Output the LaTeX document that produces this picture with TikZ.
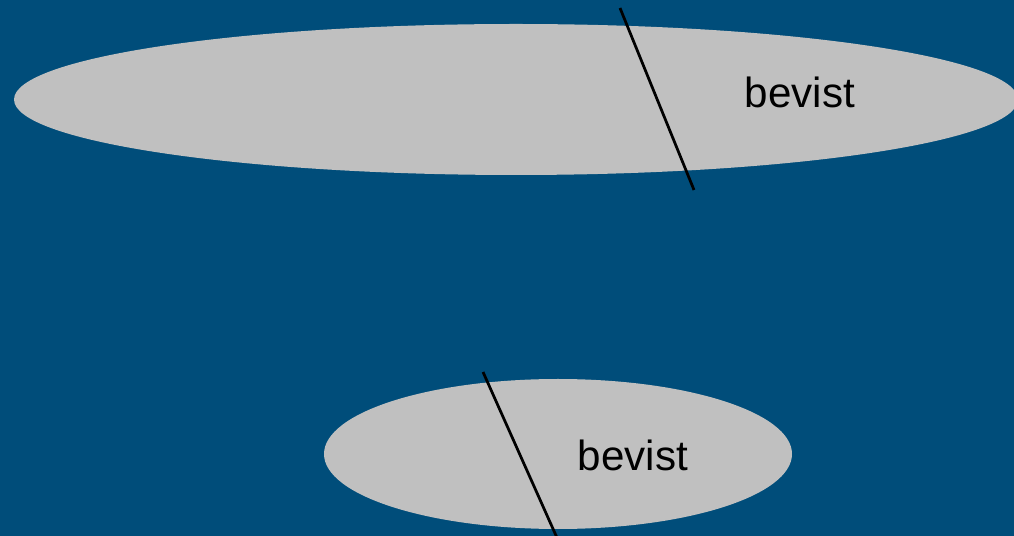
\documentclass[tikz,border=0pt]{standalone}
\usepackage{fontspec}
\setmainfont{Liberation Sans}
\usepackage{tikz}
\usetikzlibrary{positioning}
\definecolor{bgblue}{RGB}{0,77,122}
\definecolor{lightgray}{RGB}{192,192,192}

\begin{document}
\begin{tikzpicture}[x=0.02cm,y=-0.02cm]
            \useasboundingbox (0,0) rectangle (1014,536);
            \clip (0,0) rectangle (1014,536);
            \fill[bgblue] (0,0) rectangle (1014,536);

            \fill[lightgray] (516,99.5) ellipse [x radius=502, y radius=75.5];
            \draw[black, line width=0.55mm] (620,8) -- (694,190);
            \node (top) at (800,92) {\fontsize{24}{28}\selectfont bevist};

            \fill[lightgray] (558,454) ellipse [x radius=234, y radius=75];
            \draw[black, line width=0.55mm] (483,372) -- (558,540);
            \node (bottom) at (633,455) {\fontsize{24}{28}\selectfont bevist};
\end{tikzpicture}
\end{document}
